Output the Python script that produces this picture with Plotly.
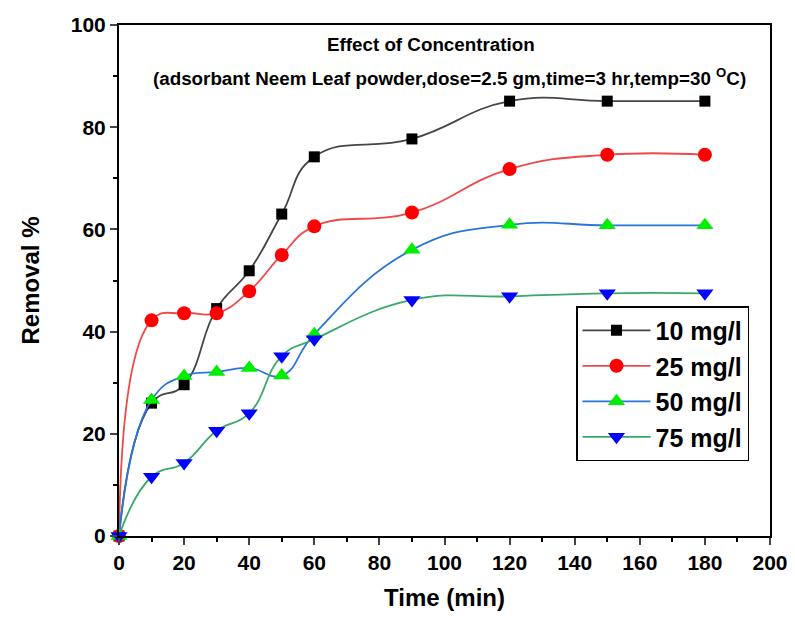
import plotly.graph_objects as go

time_min = [0, 10, 20, 30, 40, 50, 60, 90, 120, 150, 180]
series_names = ["10 mg/l", "25 mg/l", "50 mg/l", "75 mg/l"]
removal_10 = [0, 26.0, 29.6, 44.5, 51.9, 63.0, 74.2, 77.7, 85.1, 85.1, 85.1]
removal_25 = [0, 42.2, 43.6, 43.6, 47.9, 55.0, 60.6, 63.3, 71.8, 74.6, 74.6]
removal_50 = [0, 26.6, 31.3, 32.1, 32.9, 31.4, 39.5, 56.0, 60.9, 60.8, 60.8]
removal_75 = [0, 11.6, 14.3, 20.6, 24.0, 35.2, 38.5, 46.2, 46.9, 47.5, 47.5]

line_colors = ["#454545", "#f04848", "#2a76d8", "#3aa868"]
marker_colors = ["#000000", "#ff0000", "#00ee00", "#0000ff"]
symbols = ["square", "circle", "triangle-up", "triangle-down"]
sizes = [11, 14, 15, 15]
values = [removal_10, removal_25, removal_50, removal_75]

fig = go.Figure()
for name, ys, lc, mc, sym, sz in zip(series_names, values, line_colors, marker_colors, symbols, sizes):
    fig.add_trace(go.Scatter(
        x=time_min, y=ys, name="<b>" + name + "</b>", mode="lines+markers",
        line=dict(color=lc, width=1.8, shape="spline", smoothing=1.3),
        marker=dict(color=mc, symbol=sym, size=sz, line=dict(width=0)),
        cliponaxis=False,
    ))

FONT = "Arial, Liberation Sans, sans-serif"
tickfont = dict(family=FONT, size=21, color="black", weight="bold")
fig.update_layout(
    width=787, height=603,
    margin=dict(l=111, r=25, t=17, b=75),
    plot_bgcolor="white", paper_bgcolor="white",
    font=dict(family=FONT, color="black"),
    xaxis=dict(
        range=[0, 200], tick0=0, dtick=20, ticks="outside", ticklen=7, tickwidth=2,
        showline=True, linecolor="black", linewidth=2, mirror=True, showgrid=False,
        zeroline=False, tickfont=tickfont, automargin=False,
        minor=dict(dtick=10, ticks="outside", ticklen=4, tickwidth=1.5, tickcolor="black"),
        title=dict(text="<b>Time (min)</b>", font=dict(size=24, family=FONT), standoff=27),
    ),
    yaxis=dict(
        range=[0, 100], tick0=0, dtick=20, ticks="outside", ticklen=7, tickwidth=2,
        showline=True, linecolor="black", linewidth=2, mirror=True, showgrid=False,
        zeroline=False, tickfont=tickfont, automargin=False,
        minor=dict(dtick=10, ticks="outside", ticklen=4, tickwidth=1.5, tickcolor="black"),
        title=dict(text="<b>Removal %</b>", font=dict(size=24, family=FONT), standoff=24),
    ),
    legend=dict(
        x=0.702, y=0.45, xanchor="left", yanchor="top",
        bordercolor="black", borderwidth=1.5, bgcolor="white",
        font=dict(size=25, family=FONT, color="black"),
        itemwidth=68, tracegroupgap=0,
    ),
    showlegend=True,
)

fig.add_annotation(text="<b>Effect of Concentration</b>", x=0.479, y=0.961,
                   xref="paper", yref="paper", showarrow=False, yanchor="middle",
                   font=dict(size=18.8, family=FONT, color="black"))
fig.add_annotation(text="<b>(adsorbant Neem Leaf powder,dose=2.5 gm,time=3 hr,temp=30 <sup>O</sup>C)</b>",
                   x=0.507, y=0.898, xref="paper", yref="paper", showarrow=False, yanchor="middle",
                   font=dict(size=18.8, family=FONT, color="black"))

fig.write_html("out.html")
